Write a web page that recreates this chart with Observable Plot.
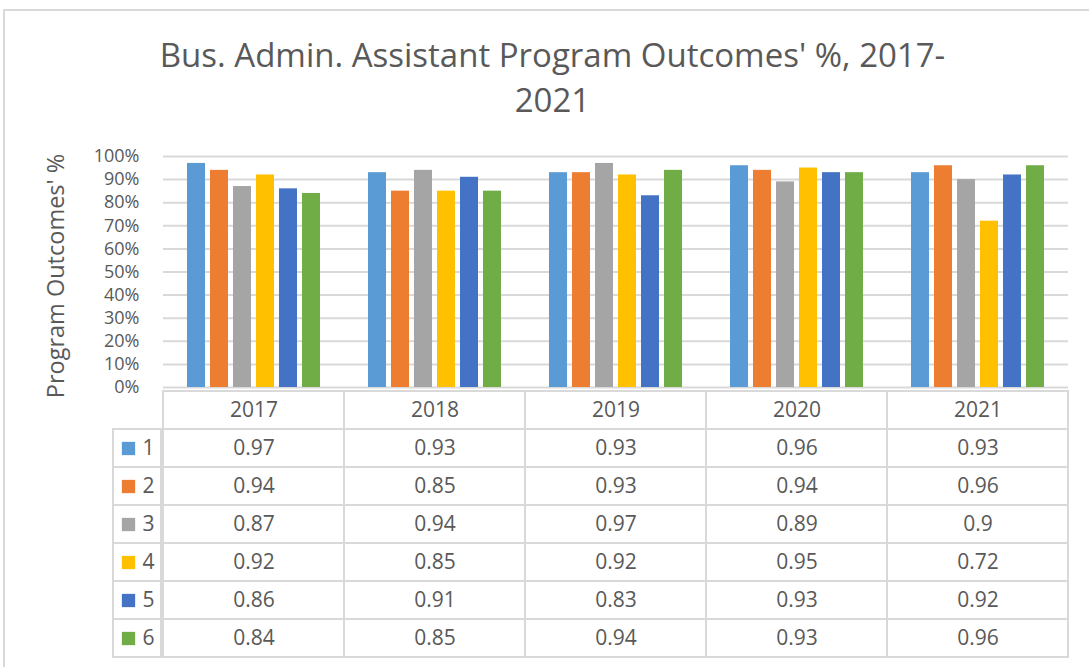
<!DOCTYPE html>
<html>
<head>
<meta charset="utf-8">
<script src="https://cdn.jsdelivr.net/npm/d3@7"></script>
<script src="https://cdn.jsdelivr.net/npm/@observablehq/plot@0.6"></script>
<style>
  html, body { margin: 0; padding: 0; background: #fff; }
  body { width: 1089px; height: 667px; position: relative; overflow: hidden; font-family: "Open Sans", sans-serif; color: #595959; }
  #frame { position: absolute; left: 3px; top: 9px; width: 1200px; height: 800px; border: 2px solid #d9d9d9; box-sizing: border-box; }
  #title { position: absolute; left: 0; width: 1105px; top: 32px; text-align: center; font-size: 33px; line-height: 45px; color: #595959; }
  #ylabel { position: absolute; left: 55px; top: 276px; transform: translate(-50%, -50%) rotate(-90deg); white-space: nowrap; font-size: 23.5px; color: #595959; }
  .abs { position: absolute; }
</style>
</head>
<body>
<div id="frame"></div>
<div id="title">Bus. Admin. Assistant Program Outcomes' %, 2017-<br>2021</div>
<div id="ylabel">Program Outcomes' %</div>
<div id="bars" class="abs" style="left:0;top:140px"></div>
<div id="legendcol" class="abs" style="left:113px;top:388px"></div>
<div id="table" class="abs" style="left:0;top:388px"></div>
<script>
const years = ["2017", "2018", "2019", "2020", "2021"];
const seriesNames = ["1", "2", "3", "4", "5", "6"];
const colors = ["#5B9BD5", "#ED7D31", "#A5A5A5", "#FFC000", "#4472C4", "#70AD47"];
const s1 = [0.97, 0.93, 0.93, 0.96, 0.93];
const s2 = [0.94, 0.85, 0.93, 0.94, 0.96];
const s3 = [0.87, 0.94, 0.97, 0.89, 0.9];
const s4 = [0.92, 0.85, 0.92, 0.95, 0.72];
const s5 = [0.86, 0.91, 0.83, 0.93, 0.92];
const s6 = [0.84, 0.85, 0.94, 0.93, 0.96];
const yTicks = [0, 0.1, 0.2, 0.3, 0.4, 0.5, 0.6, 0.7, 0.8, 0.9, 1.0];

const seriesValues = [s1, s2, s3, s4, s5, s6];
const data = [];
seriesValues.forEach((vals, si) => vals.forEach((v, yi) => data.push({year: years[yi], series: seriesNames[si], value: v})));

const font = "'Open Sans', sans-serif";
const gray = "#595959";
const grid = "#d9d9d9";

// Bars chart
const bars = Plot.plot({
  width: 1089,
  height: 249,
  marginLeft: 161,
  marginRight: 19,
  marginTop: 16,
  marginBottom: 2,
  style: {fontFamily: font, fontSize: "18px", color: gray, background: "transparent", overflow: "visible"},
  fx: {domain: years, padding: 0, axis: null},
  x: {domain: seriesNames, paddingInner: 0.2, paddingOuter: 1.0, axis: null},
  y: {domain: [0, 1], ticks: yTicks, tickFormat: d3.format(".0%"), tickSize: 0, tickPadding: 24, label: null},
  color: {domain: seriesNames, range: colors},
  marks: [
    Plot.gridY(yTicks, {stroke: grid, strokeOpacity: 1, strokeWidth: 2}),
    Plot.axisY({ticks: yTicks, tickFormat: d3.format(".0%"), tickSize: 0, tickPadding: 24, fontSize: 18, fill: gray, label: null, facetAnchor: "left"}),
    Plot.barY(data, {fx: "year", x: "series", y: "value", fill: "series"})
  ]
});
document.getElementById("bars").appendChild(bars);

// Table rows
const rows = ["header", ...seriesNames];
const tableCells = [];
years.forEach(y => tableCells.push({row: "header", year: y, text: y}));
seriesValues.forEach((vals, si) => vals.forEach((v, yi) => tableCells.push({row: seriesNames[si], year: years[yi], text: String(v)})));

const table = Plot.plot({
  width: 1089,
  height: 273,
  marginLeft: 161,
  marginRight: 19,
  marginTop: 0,
  marginBottom: 1,
  style: {fontFamily: font, color: gray, background: "transparent", overflow: "visible"},
  x: {domain: years, padding: 0, axis: null},
  y: {domain: rows, padding: 0, axis: null},
  marks: [
    Plot.cell(tableCells, {x: "year", y: "row", fill: "white", stroke: grid, strokeWidth: 2}),
    Plot.text(tableCells, {x: "year", y: "row", text: "text", fill: gray, fontSize: 21})
  ]
});
document.getElementById("table").appendChild(table);

// Legend column
const legendCells = seriesNames.map(s => ({row: s, name: s}));
const legendCol = Plot.plot({
  width: 48,
  height: 273,
  margin: 0,
  marginBottom: 1,
  style: {fontFamily: font, color: gray, background: "transparent", overflow: "visible"},
  y: {domain: rows, padding: 0, axis: null},
  color: {domain: seriesNames, range: colors},
  marks: [
    Plot.cell(legendCells, {y: "row", fill: "white", stroke: grid, strokeWidth: 2}),
    Plot.dot(legendCells, {y: "row", frameAnchor: "left", dx: 15, symbol: "square", r: 7.5, fill: "name", stroke: "none"}),
    Plot.text(legendCells, {y: "row", text: "name", frameAnchor: "left", dx: 29, textAnchor: "start", fill: gray, fontSize: 21})
  ]
});
document.getElementById("legendcol").appendChild(legendCol);
</script>
</body>
</html>
